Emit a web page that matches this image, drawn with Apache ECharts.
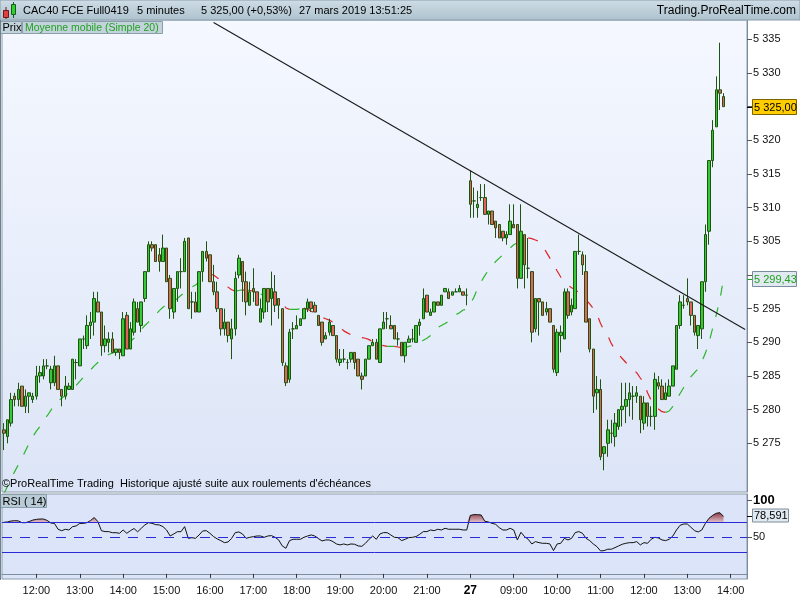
<!DOCTYPE html>
<html><head><meta charset="utf-8">
<script src="https://cdn.jsdelivr.net/npm/echarts@6/dist/echarts.min.js"></script>
<style>html,body{margin:0;padding:0;background:#fff}#c{width:800px;height:600px}</style>
</head><body><div id="c"></div><script>
// ---- data (5-minute candles, CAC40 FCE Full0419, 26-27 March 2019) ----
const opens=[5277,5276,5278,5282,5281.5,5283.5,5280.5,5282,5281.5,5282,5285,5285,5286.5,5284,5284,5286.5,5283,5282,5283,5283,5287,5286.5,5290.5,5289.5,5292.5,5293,5296,5294.5,5289.5,5290,5290.5,5288.5,5289,5288,5294,5289,5291.5,5295,5292.5,5296.5,5300.5,5304.5,5304.5,5303,5302,5304,5299.5,5294.5,5298,5300.5,5300.5,5305.5,5296,5296,5294.5,5300.5,5303.5,5303,5299,5297.5,5295,5292,5293,5290.5,5292,5300,5302,5299,5295.5,5298,5297.5,5293,5294.5,5298,5296.5,5297.5,5296.5,5295,5286.5,5284.5,5292,5292,5292.5,5293.5,5295,5296,5295.5,5294,5293,5290.5,5291.5,5292.5,5291,5287,5287.5,5287,5287.5,5288.5,5287.5,5285,5285,5287.5,5289.5,5290,5287,5292,5293.5,5292.5,5292.5,5290.5,5290,5288,5290,5290.5,5290,5292.5,5293.5,5297,5294,5294.5,5296,5295.5,5297.5,5297.5,5297,5297.5,5297.5,5297.5,5297,
5314,5311,5310,5311.5,5311.5,5309,5309.5,5308,5307.5,5306.5,5305.5,5306,5307.5,5307.5,5299.5,5306,5301,5300.5,5292,5296.5,5296,5294.5,5295,5292.5,5285.5,5291,5290.5,5297.5,5294.5,5295,5303.5,5303,5300.5,5293.5,5289,5282.5,5283,5273.5,5275,5276.5,5276,5277.5,5280,5280.5,5281.5,5282,5282,5282,5278,5281,5279,5279,5284,5283.5,5281.5,5282,5283.5,5286,5292.5,5295.5,5296.5,5296,5294,5291,5292,5299,5306.5,5317,5322,5327.5,5326.5];
const highs=[5278,5278.5,5282.5,5282.5,5284,5283.5,5283,5282.5,5282.5,5286.5,5286.5,5287.5,5287.5,5286.5,5288,5286.5,5283,5285,5284,5287.5,5287.5,5290.5,5291,5294,5294.5,5297.5,5297.5,5294.5,5292.5,5291.5,5291.5,5289,5289,5294.5,5294.5,5293,5296.5,5296,5296,5300.5,5305,5305,5304.5,5304,5306,5304,5300,5298,5300.5,5302.5,5305.5,5305.5,5297.5,5297.5,5300.5,5303.5,5305,5303,5301.5,5299,5295,5295,5293,5293.5,5300.5,5303,5302,5300.5,5299,5301,5297.5,5296.5,5298,5298,5300.5,5300,5296.5,5295,5287,5292,5293,5294,5293.5,5295,5296.5,5296,5296,5294,5293,5291.5,5293.5,5292.5,5291,5289,5289,5287.5,5288.5,5288.5,5287.5,5285.5,5287.5,5289.5,5290.5,5290.5,5292,5294.5,5294.5,5294,5292.5,5291.5,5290,5290,5291,5292,5292.5,5293.5,5298,5297,5295,5296,5296,5297,5298,5298,5297.5,5298,5298.5,5297.5,5298,
5315.5,5313,5312.5,5313.5,5313.5,5309.5,5309.5,5308,5307.5,5306.5,5306.5,5310.5,5310.5,5307.5,5310.5,5306,5305.5,5300.5,5296.5,5296.5,5296,5296,5295,5292.5,5292,5292.5,5298,5298,5296.5,5303.5,5306,5303.5,5303,5293.5,5289,5285,5284.5,5274.5,5278.5,5278.5,5279.5,5280,5284,5284,5284,5283.5,5283.5,5282,5282,5281,5280.5,5285.5,5285,5284.5,5284,5284.5,5286.5,5292.5,5297,5297,5299.5,5296,5294,5292.5,5299,5307.5,5317,5323,5329.5,5334.5,5327];
const lows=[5274,5275,5277.5,5280.5,5280.5,5280.5,5279.5,5279.5,5281,5281.5,5284,5284.5,5286,5283,5283.5,5283,5280.5,5281.5,5283,5283,5284.5,5286.5,5289,5289,5290.5,5291,5294.5,5288,5288.5,5288.5,5288.5,5288,5287.5,5288,5289,5289,5291,5293,5291.5,5296,5300.5,5303.5,5302,5300.5,5302,5299,5293.5,5293.5,5296,5298,5300.5,5295,5293.5,5294.5,5294.5,5299,5302,5299,5297,5294.5,5291,5291,5290,5287.5,5291,5299.5,5296,5294,5295.5,5296,5295.5,5293,5293.5,5294.5,5292.5,5294.5,5293.5,5286.5,5283.5,5284,5290.5,5292,5292.5,5293.5,5294.5,5294.5,5294.5,5292.5,5289.5,5290.5,5291,5291,5287,5286.5,5287,5286,5287,5286,5285,5283,5285,5287.5,5289.5,5287.5,5287,5292,5292,5292,5290.5,5289.5,5288,5287,5290,5290,5290,5291,5293.5,5294.5,5294,5294.5,5295.5,5295.5,5297.5,5296.5,5297,5297.5,5297.5,5297,5295.5,
5308.5,5308.5,5308.5,5311,5309,5307.5,5307.5,5305.5,5305.5,5305,5304.5,5306,5307,5298,5299.5,5298,5299.5,5290,5291.5,5291,5294,5294,5293,5285.5,5285,5288.5,5290.5,5293.5,5294,5295,5303,5300,5293,5288.5,5279.5,5280,5272.5,5271,5273,5275,5274.5,5277,5277.5,5278,5279,5278.5,5281,5276.5,5277,5277.5,5277.5,5277,5283,5281.5,5281.5,5282,5283.5,5286,5292,5295,5295.5,5292.5,5291,5289,5290.5,5297.5,5304.5,5316,5322,5324.5,5325];
const closes=[5276.5,5278.5,5281.5,5281.5,5283,5280.5,5282,5282.5,5282,5285,5285.5,5286.5,5286.5,5286,5286.5,5283,5282,5283.5,5283.5,5287.5,5287,5290.5,5290.5,5292.5,5293,5296.5,5294.5,5289.5,5290.5,5290.5,5288.5,5289,5288.5,5293.5,5289,5292,5296,5293,5296,5300.5,5304.5,5304,5302,5302,5304,5299,5295,5298,5300.5,5300.5,5305,5295,5296,5294.5,5300.5,5303.5,5302.5,5299,5297.5,5295,5292,5293,5291,5292,5299.5,5302.5,5299,5296,5297.5,5297.5,5295.5,5295,5298,5296,5298,5295.5,5295.5,5287,5284,5291.5,5292,5292.5,5293.5,5295,5296,5295,5294.5,5292.5,5290,5291,5293,5291,5287.5,5287.5,5287.5,5287,5288.5,5287,5285,5284.5,5287.5,5289.5,5290,5287.5,5292,5293,5293.5,5292,5290.5,5290.5,5288,5290,5290.5,5290.5,5292.5,5293,5296.5,5294.5,5294.5,5296,5295.5,5297,5298,5296.5,5297.5,5297.5,5298,5297,5297,
5310.5,5311,5310.5,5311.5,5309,5309.5,5307.5,5307,5305.5,5305.5,5306,5308,5307,5299.5,5306.5,5301.5,5301,5291.5,5296.5,5296,5294,5295,5293,5286,5291.5,5291.5,5297.5,5294,5295.5,5303.5,5303.5,5301.5,5293,5289,5282,5283,5273,5274.5,5277,5276.5,5278,5280,5280.5,5281.5,5282.5,5282,5282.5,5278.5,5281,5279,5279,5284.5,5283.5,5281.5,5282.5,5283.5,5286.5,5292.5,5296,5295.5,5296,5294,5291.5,5292.5,5299,5306,5317,5321.5,5327.5,5327,5325];
const ma20=[5267.5,5268.6,5269.7,5270.8,5271.8,5272.8,5273.9,5275,5276,5276.8,5277.5,5278.4,5279.1,5279.9,5280.8,5281.3,5281.7,5282.1,5282.6,5283.1,5283.6,5284.2,5284.8,5285.3,5285.9,5286.5,5287,5287.5,5287.9,5288.2,5288.4,5288.6,5289.1,5289.5,5289.8,5290.1,5290.6,5291.3,5291.9,5292.5,5293,5293.5,5294.1,5294.7,5295.2,5295.6,5295.9,5296.1,5296.5,5297,5297.4,5297.8,5298.2,5298.5,5299,
5299.4,5299.8,5300.1,5300,5299.6,5299.2,5298.7,5298.2,5297.8,5297.6,5297.7,5297.8,5297.7,5297.7,5297.6,5297.3,5297.1,5297.2,5297.2,5297,5296.7,5296.4,5296,5295.1,5294.9,5294.9,5294.9,5295,5295.1,5294.9,5294.6,5294.4,5294,5293.7,5293.5,5293.3,5293,5292.7,5292.3,5291.7,5291.4,5291.1,5291,5290.8,5290.7,5290.6,5290.4,5290.1,5289.8,5289.6,5289.5,5289.4,
5289.4,5289.4,5289.3,5289.2,5289.2,5289.4,5289.5,5289.7,5290,5290.3,5290.6,5291,5291.8,5292.2,5292.5,5292.8,5293.1,5293.7,5294.1,5294.4,5294.8,5294.9,
5295.7,5296.7,5298,5299,5299.9,5300.7,5301.3,5302,5302.5,5303,5303.6,5304,5304.5,5304.8,5305.1,5305.4,5305.5,5305.4,5305.2,5305,5304.3,5303.4,5302.5,5301.7,5300.6,5299.7,5298.9,5298.5,5298.1,5297.8,5297.4,5297,5296.3,5295.7,5295,5294.2,5292.8,5291.7,5291,5289.8,5288.9,5288.2,5287.6,5287,5286.5,5285.9,5285.5,5284.7,5284,5282.5,5281.4,5280.6,5280.1,5279.7,5279.6,5279.8,5280.5,5281.5,5282.4,5283.3,5284.1,5284.9,5285.5,5286.1,5287.1,5288.4,5290,5292.1,5294.1,5296.3,5299.43];
const rsi14=[70.5,71,72.3,72.7,72.5,70,70,71.5,73.5,74.5,75,75,73,69.5,69,61,59,61,60,64.5,65.5,69,69,70,73,77,71.5,59,57.8,57.8,56.3,56.3,55.5,60,55.5,59,62,57.5,
62.3,66.9,70,69.1,67.3,66.9,64.6,60,51.8,54.6,57.7,57.7,64.6,48.6,49.5,48.6,53.2,58.7,59.1,55.5,51,47.8,45.5,42.7,43.6,48.6,56.4,57.3,54.6,48.6,50,50.9,51.8,51.8,50,51.8,52.3,50,46.4,38.2,35,45.5,47.3,47.3,47.3,50,51.8,53.2,51.8,48.2,45,46.4,46.4,44.1,40.9,39.6,40.9,39.6,40.9,40.5,38.2,37.7,41.8,47.3,51.8,47.3,54.6,56.4,56.4,53.2,50,49.5,
45.5,47.3,49.6,50,51,54.1,57.8,57.8,60,59.1,61,60,62.3,61,61,61,61,60,60,80,81,81,80.5,71.9,71,69.1,67.8,63.2,60,60,62.3,60,46.4,56.9,50.9,47.3,40.9,44.1,42.7,41.8,41.8,40.9,31.8,40.9,41.8,48.6,46.4,48.6,56.4,57.8,55.5,48.6,45.5,40.9,37.3,31.4,31.8,33.7,33.7,35.9,38.2,40.5,41.8,42.7,42.7,44.1,39.6,42.7,41.8,47.3,50,49.1,46.4,45.5,47.3,51.8,60,66.4,68.2,68.2,63.7,59.1,57.3,60,69.1,76,80,82.8,83.7,78.591];
const trendIdx=[58,205];
const trendPrice=[5337.5,5291.9];
const priceTicks=[5275,5280,5285,5290,5295,5300,5305,5310,5315,5320,5325,5330,5335];
const priceLabels=[5275,5280,5285,5290,5295,5305,5310,5315,5320,5330,5335];
const rsiTicks=[50,100];
const rsiLevels=[30,50,70];
const lastPrice=5325.00, lastMA=5299.43, lastRSI=78.591;

// categories: 26 Mar 11:15-21:55, 27 Mar 08:00-14:20
function pad(n){return (n<10?'0':'')+n;}
const categories=[];
for(let t=11*60+15;t<=21*60+55;t+=5)categories.push('26 '+pad(Math.floor(t/60))+':'+pad(t%60));
for(let t=8*60;t<=14*60+20;t+=5)categories.push('27 '+pad(Math.floor(t/60))+':'+pad(t%60));

const FONT='"Liberation Sans", Arial, sans-serif';
const chart=echarts.init(document.getElementById('c'),null,{renderer:'canvas'});
const candleData=opens.map((o,i)=>[o,closes[i],lows[i],highs[i]]);

// MA colored by direction: one series per run
const maSeries=[];
let runStart=0,runUp=null;
function pushRun(s,e,up){
  const d=[];for(let k=s;k<=e;k++)d.push([k,ma20[k]]);
  maSeries.push({type:'line',xAxisIndex:0,yAxisIndex:0,data:d,symbol:'none',silent:true,z:3,
    lineStyle:{color:up?'#2bb52b':'#e02424',width:1.2,type:[10,12]}});
}
for(let i=1;i<ma20.length;i++){
  const up=ma20[i]>=ma20[i-1];
  if(runUp===null){runUp=up;runStart=i-1;}
  else if(up!==runUp){pushRun(runStart,i-1,runUp);runStart=i-1;runUp=up;}
}
pushRun(runStart,ma20.length-1,runUp);

const isHour=(idx,val)=>/:00$/.test(val);
const rsiFill=rsi14.map(v=>Math.max(v,70));
const fmtPrice=v=>{const s=String(v);return s.slice(0,1)+' '+s.slice(1);};

const option={
  animation:false,
  textStyle:{fontFamily:FONT},
  grid:[
    {left:2,right:53,top:20,height:472,show:true,borderColor:'#8c9caa',borderWidth:1,
     backgroundColor:new echarts.graphic.LinearGradient(0,0,0,1,[{offset:0,color:'#f5f8ff'},{offset:1,color:'#dce5f7'}])},
    {left:2,right:53,top:494,height:85,show:true,borderColor:'#8c9caa',borderWidth:1,backgroundColor:'#dbe4f8'}
  ],
  xAxis:[
    {type:'category',gridIndex:0,data:categories,boundaryGap:true,axisLine:{show:false},axisTick:{show:false},axisLabel:{show:false},splitLine:{show:false}},
    {type:'category',gridIndex:1,data:categories,boundaryGap:true,
     axisLine:{show:true,lineStyle:{color:'#7d8d9b'}},
     axisTick:{show:true,interval:isHour,alignWithLabel:true,length:4,lineStyle:{color:'#333'}},
     axisLabel:{show:true,interval:isHour,margin:6,fontSize:11,color:'#111',fontFamily:FONT,
       formatter:(v)=>v==='27 08:00'?'{d|27}':v.slice(3),
       rich:{d:{fontWeight:'bold',fontSize:12,color:'#000',fontFamily:FONT}}},
     splitLine:{show:false}}
  ],
  yAxis:[
    {type:'value',gridIndex:0,position:'right',min:5267.77,max:5337.87,scale:true,
     axisLine:{show:true,lineStyle:{color:'#7d8d9b'}},
     axisTick:{show:true,length:5,customValues:priceTicks,lineStyle:{color:'#555'}},
     axisLabel:{show:true,customValues:priceLabels,margin:6,fontSize:11,color:'#111',fontFamily:FONT,formatter:fmtPrice},
     splitLine:{show:false}},
    {type:'value',gridIndex:1,position:'right',min:-7,max:109.2,
     axisLine:{show:true,lineStyle:{color:'#7d8d9b'}},
     axisTick:{show:true,length:5,customValues:rsiTicks,lineStyle:{color:'#555'}},
     axisLabel:{show:true,customValues:rsiTicks,margin:6,fontSize:11,color:'#111',fontFamily:FONT,
       formatter:v=>v===100?'{b|100}':String(v),rich:{b:{fontWeight:'bold',fontSize:13,color:'#000',fontFamily:FONT}}},
     splitLine:{show:false}}
  ],
  series:[
    {type:'candlestick',xAxisIndex:0,yAxisIndex:0,data:candleData,barWidth:3,z:4,silent:true,
     itemStyle:{color:'#36c936',color0:'#e5625c',borderColor:'#1f5410',borderColor0:'#1f5410',borderWidth:1}},
    ...maSeries,
    {type:'line',xAxisIndex:0,yAxisIndex:0,data:[[trendIdx[0],trendPrice[0]],[trendIdx[1],trendPrice[1]]],symbol:'none',silent:true,z:5,
     lineStyle:{color:'#1a1a1a',width:1.1}},
    {type:'line',xAxisIndex:1,yAxisIndex:1,data:rsiFill,symbol:'none',silent:true,z:2,
     lineStyle:{width:0,opacity:0},
     areaStyle:{origin:70,opacity:1,color:new echarts.graphic.LinearGradient(0,0,0,1,[{offset:0,color:'#8a3a48'},{offset:1,color:'#e4c4cc'}])}},
    {type:'line',xAxisIndex:1,yAxisIndex:1,data:rsi14,symbol:'none',silent:true,z:4,
     lineStyle:{color:'#111',width:1},
     markLine:{silent:true,symbol:'none',label:{show:false},
       data:[
         {yAxis:rsiLevels[2],lineStyle:{color:'#2a2ad6',width:1,type:'solid'}},
         {yAxis:rsiLevels[0],lineStyle:{color:'#2a2ad6',width:1,type:'solid'}},
         {yAxis:rsiLevels[1],lineStyle:{color:'#2a2ad6',width:1,type:[10,8]}}
       ]}}
  ]
};
chart.setOption(option);

const yLast=chart.convertToPixel({yAxisIndex:0},lastPrice);
const yMA=chart.convertToPixel({yAxisIndex:0},lastMA);
const yRSI=chart.convertToPixel({yAxisIndex:1},lastRSI);
const fmtDec=(v,d)=>{const s=v.toFixed(d).replace('.',',');const p=s.split(',');return (p[0].length>3?p[0].slice(0,p[0].length-3)+' '+p[0].slice(-3):p[0])+','+p[1];};

const txt=(x,y,t,o)=>Object.assign({type:'text',z:100,style:Object.assign({x:x,y:y,text:t,fill:'#000',font:'11px '+FONT,align:'left',verticalAlign:'middle'},o||{})});
chart.setOption({graphic:[
  // header
  {type:'rect',z:90,shape:{x:0,y:0,width:800,height:20},style:{fill:new echarts.graphic.LinearGradient(0,0,0,1,[{offset:0,color:'#cfdde6'},{offset:1,color:'#adc2ce'}]),stroke:'#8a9eab',lineWidth:1}},
  {type:'line',z:101,shape:{x1:6,y1:7,x2:6,y2:19},style:{stroke:'#6b1a1a',lineWidth:1}},
  {type:'rect',z:102,shape:{x:3.5,y:10.5,width:5,height:7},style:{fill:'#e04040',stroke:'#6b1a1a',lineWidth:1}},
  {type:'line',z:101,shape:{x1:13.5,y1:2,x2:13.5,y2:18},style:{stroke:'#1a5a1a',lineWidth:1}},
  {type:'rect',z:102,shape:{x:11.5,y:4.5,width:4,height:10},style:{fill:'#30d030',stroke:'#1a5a1a',lineWidth:1}},
  txt(23,10.5,'CAC40 FCE Full0419'),
  txt(137,10.5,'5 minutes'),
  txt(201,10.5,'5 325,00 (+0,53%)'),
  txt(299,10.5,'27 mars 2019 13:51:25'),
  txt(796,10.5,'Trading.ProRealTime.com',{font:'12px '+FONT,align:'right'}),
  // legend boxes
  {type:'rect',z:90,shape:{x:0.5,y:21.5,width:21,height:12},style:{fill:'#c3d3dc',stroke:'#8a9eab',lineWidth:1}},
  txt(2.5,28,'Prix'),
  {type:'rect',z:90,shape:{x:22.5,y:21.5,width:140,height:12},style:{fill:'#c3d3dc',stroke:'#8a9eab',lineWidth:1}},
  txt(25,28,'Moyenne mobile (Simple 20)',{font:'10.5px '+FONT,fill:'#22a022'}),
  // copyright
  txt(2,484,'\u00a9ProRealTime Trading  Historique ajust\u00e9 suite aux roulements d\'\u00e9ch\u00e9ances'),
  // RSI label
  {type:'rect',z:90,shape:{x:0.5,y:494.5,width:46,height:13},style:{fill:'#b9cbd6',stroke:'#8a9eab',lineWidth:1}},
  txt(2.5,501.5,'RSI ( 14)'),
  // left border
  {type:'line',z:95,shape:{x1:0.5,y1:20,x2:0.5,y2:580},style:{stroke:'#6e808e',lineWidth:1}},
  // last price label
  {type:'line',z:101,shape:{x1:747,y1:Math.round(yLast)+0.5,x2:752,y2:Math.round(yLast)+0.5},style:{stroke:'#000',lineWidth:1}},
  {type:'rect',z:100,shape:{x:752.5,y:Math.round(yLast)-7.5,width:44,height:15},style:{fill:'#ffcc00',stroke:'#7a6400',lineWidth:1}},
  txt(754,Math.round(yLast)+0.5,fmtDec(lastPrice,2)),
  // MA label
  {type:'line',z:101,shape:{x1:747,y1:Math.round(yMA)+0.5,x2:752,y2:Math.round(yMA)+0.5},style:{stroke:'#22a022',lineWidth:1}},
  {type:'rect',z:100,shape:{x:752.5,y:Math.round(yMA)-7.5,width:44,height:15},style:{fill:'#e1e9f1',stroke:'#7c8e9c',lineWidth:1}},
  txt(754,Math.round(yMA)+0.5,fmtDec(lastMA,2),{fill:'#22a022'}),
  // RSI label
  {type:'line',z:101,shape:{x1:747,y1:Math.round(yRSI)+0.5,x2:752,y2:Math.round(yRSI)+0.5},style:{stroke:'#000',lineWidth:1}},
  {type:'rect',z:100,shape:{x:752.5,y:Math.round(yRSI)-7,width:36,height:13},style:{fill:'#e1e9f1',stroke:'#7c8e9c',lineWidth:1}},
  txt(754,Math.round(yRSI)-0.5,fmtDec(lastRSI,3))
]});
</script></body></html>
